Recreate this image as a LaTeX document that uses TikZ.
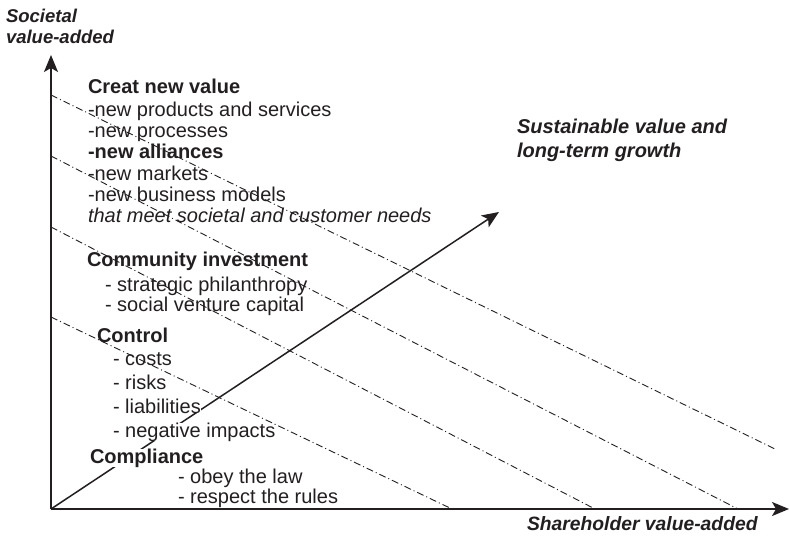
\documentclass[tikz,border=0pt]{standalone}
\usepackage{fontspec}
\setmainfont{Liberation Sans}
\usetikzlibrary{arrows.meta}
\definecolor{ink}{RGB}{35,31,32}
\begin{document}
\begin{tikzpicture}[x=1bp,y=-1bp,
  txt/.style={anchor=base west, inner sep=0pt, outer sep=0pt, text=ink,
    font=\fontsize{20bp}{22bp}\selectfont},
  head/.style={txt, font=\fontsize{20bp}{22bp}\selectfont\bfseries},
  mask/.style={fill=white},
  axlab/.style={anchor=base west, inner sep=0pt, outer sep=0pt, text=ink},
  axisline/.style={line width=1.5bp, draw=ink, -{Stealth[length=17bp,width=14bp,inset=4bp]}},
  gridline/.style={line width=0.9bp, draw=ink, dash pattern=on 7bp off 3bp on 1bp off 3bp}]
\useasboundingbox (0,0) rectangle (790,537);

% coordinates
\coordinate (O) at (51,509);
\coordinate (Ytop) at (51,55);
\coordinate (Xend) at (789,509);
\coordinate (G) at (499,212);
\coordinate (a1) at (51,95);  \coordinate (b1) at (775,449);
\coordinate (a2) at (51,156); \coordinate (b2) at (738,509);
\coordinate (a3) at (51,227); \coordinate (b3) at (595,509);
\coordinate (a4) at (51,317); \coordinate (b4) at (452,509);

% axes and growth arrow
\draw[axisline] (O) -- (Ytop);
\draw[axisline] (O) -- (Xend);
\draw[axisline] (O) -- (G);

% axis labels
\node[axlab, font=\fontsize{18.5bp}{20bp}\selectfont\bfseries\itshape] (ylab1) at (6,23) {Societal};
\node[axlab, font=\fontsize{18.5bp}{20bp}\selectfont\bfseries\itshape] (ylab2) at (6,44) {value-added};
\node[axlab, font=\fontsize{20bp}{22bp}\selectfont\bfseries\itshape] (sv1) at (517,134) {Sustainable value and};
\node[axlab, font=\fontsize{20bp}{22bp}\selectfont\bfseries\itshape] (sv2) at (517,158) {long-term growth};
\node[axlab, font=\fontsize{19.3bp}{22bp}\selectfont\bfseries\itshape] (xlab) at (527,530) {Shareholder value-added};

% Creat new value
\node[head] (c0) at (88,94) {Creat new value};
\node[txt] (c1) at (88,117) {-new products and services};
\node[txt] (c2) at (88,138) {-new processes};
\node[head] (c3) at (88,159) {-new alliances};
\node[txt] (c4) at (88,181) {-new markets};
\node[txt] (c5) at (88,202) {-new business models};
\node[txt, font=\fontsize{20bp}{22bp}\selectfont\itshape] (c6) at (88,223) {that meet societal and customer needs};

% Community investment
\node[head] (m0) at (87,267) {Community investment};
\node[txt] (m1) at (105,292) {- strategic philanthropy};
\node[txt] (m2) at (105,312) {- social venture capital};

% Control
\node[head] (k0) at (97,342) {Control};
\node[txt] (k1) at (113,365) {- costs};
\node[txt] (k2) at (113,389) {- risks};
\node[txt, mask] (k3) at (113,413) {- liabilities};
\node[txt, mask] (k4) at (113,437) {- negative impacts};

% Compliance
\node[head, mask] (p0) at (90,463) {Compliance};
\node[txt] (p1) at (178,483) {- obey the law};
\node[txt] (p2) at (178,503) {- respect the rules};

% dash-dot level lines
\draw[gridline] (a1) -- (b1);
\draw[gridline] (a2) -- (b2);
\draw[gridline] (a3) -- (b3);
\draw[gridline] (a4) -- (b4);
\end{tikzpicture}
\end{document}
